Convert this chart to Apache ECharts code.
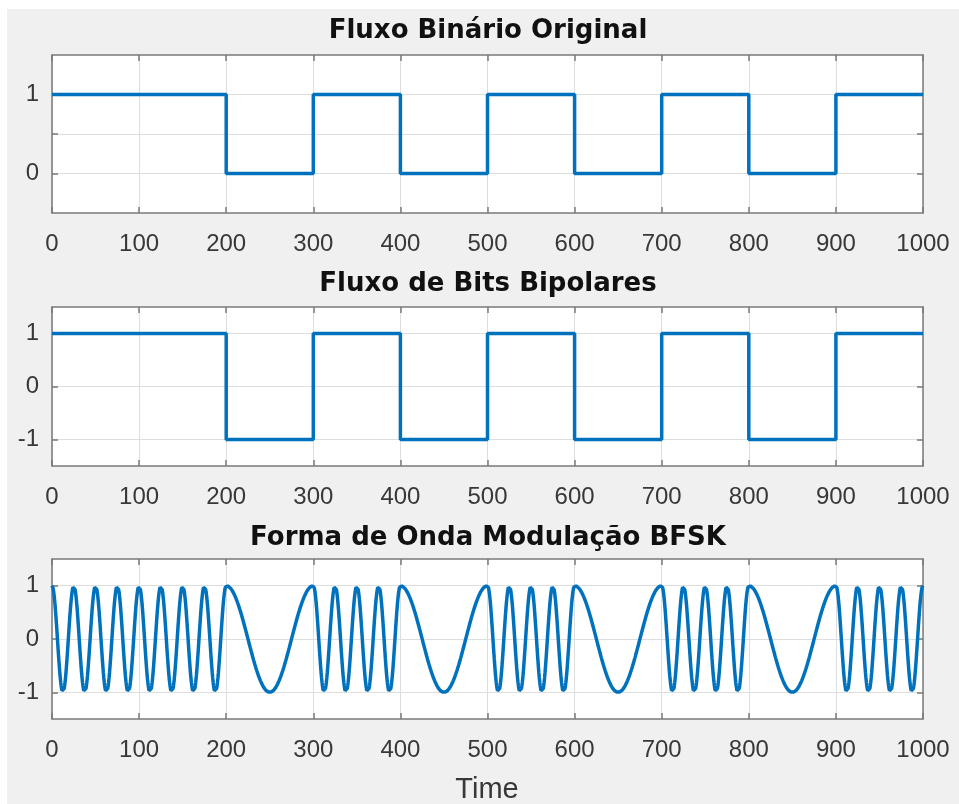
<!DOCTYPE html>
<html>
<head>
<meta charset="utf-8">
<script src="https://cdn.jsdelivr.net/npm/echarts@6/dist/echarts.min.js"></script>
<style>
  html, body { margin: 0; padding: 0; background: #ffffff; }
  #wrap { position: relative; width: 959px; height: 804px; background: #ffffff; overflow: hidden; }
  #chart { position: absolute; left: 7px; top: 9px; width: 952px; height: 795px; }
</style>
</head>
<body>
<div id="wrap"><div id="chart"></div></div>
<script>
// ---- data ----
const titles = ['Fluxo Binário Original', 'Fluxo de Bits Bipolares', 'Forma de Onda Modulação BFSK'];
const xLabel = 'Time';
const xTicks = [0, 100, 200, 300, 400, 500, 600, 700, 800, 900, 1000];
const bitsOriginal = [1, 1, 0, 1, 0, 1, 0, 1, 0, 1];
const bitsBipolar = [1, 1, -1, 1, -1, 1, -1, 1, -1, 1];
const bitDuration = 100;          // samples per bit
const markCyclesPerBit = 4;       // bit 1 -> 4 cycles per bit
const spaceCyclesPerBit = 1;      // bit 0 -> 1 cycle per bit
const samplesTotal = 1000;
const yTicks1 = [0, 0.5, 1];
const yLabels1 = [0, 1];
const yTicks23 = [-1, 0, 1];

// ---- build series data from the arrays ----
function stepData(bits) {
  const d = [];
  bits.forEach((b, i) => d.push([i * bitDuration, b]));
  d.push([bits.length * bitDuration, bits[bits.length - 1]]);
  return d;
}
const bfsk = [];
const res = 4; // sub-samples per sample for a smooth curve
for (let k = 0; k <= samplesTotal * res; k++) {
  const t = k / res;
  const idx = Math.min(Math.floor(t / bitDuration), bitsOriginal.length - 1);
  const cyc = bitsOriginal[idx] === 1 ? markCyclesPerBit : spaceCyclesPerBit;
  bfsk.push([t, Math.cos(2 * Math.PI * cyc * t / bitDuration)]);
}

// ---- styling ----
const FONT = '"Liberation Sans", Arial, Helvetica, sans-serif';
const TFONT = '"DejaVu Sans", "Liberation Sans", Arial, sans-serif';
const boxColor = '#7a7a7a';
const gridColor = '#dedede';
const labelColor = '#383838';
const lineColor = '#0072BD';

const gridsPos = [
  { top: 46, height: 158 },
  { top: 298, height: 159 },
  { top: 550, height: 160 }
];
const grids = gridsPos.map(g => ({
  left: 45, right: 36, top: g.top, height: g.height,
  show: true, backgroundColor: '#ffffff', borderWidth: 0
}));

const xAxes = [];
const yAxes = [];
gridsPos.forEach((g, i) => {
  xAxes.push({
    type: 'value', gridIndex: i, position: 'bottom', min: xTicks[0], max: xTicks[xTicks.length - 1], interval: 100,
    axisLine: { show: true, onZero: false, lineStyle: { color: boxColor, width: 1.5 } },
    axisTick: { show: true, inside: true, length: 6, lineStyle: { color: boxColor, width: 1.5 } },
    axisLabel: { show: true, margin: 19, color: labelColor, fontSize: 24, fontFamily: FONT, formatter: v => String(v) },
    splitLine: { show: true, lineStyle: { color: gridColor, width: 1 } }
  });
  xAxes.push({
    type: 'value', gridIndex: i, position: 'top', min: xTicks[0], max: xTicks[xTicks.length - 1], interval: 100,
    axisLine: { show: true, onZero: false, lineStyle: { color: boxColor, width: 1.5 } },
    axisTick: { show: true, inside: true, length: 6, lineStyle: { color: boxColor, width: 1.5 } },
    axisLabel: { show: false },
    splitLine: { show: false }
  });
  const ymin = i === 0 ? -0.5 : -1.5;
  const ymax = 1.5;
  const ticks = i === 0 ? yTicks1 : yTicks23;
  const labels = i === 0 ? yLabels1 : yTicks23;
  yAxes.push({
    type: 'value', gridIndex: i, position: 'left', min: ymin, max: ymax,
    axisLine: { show: true, onZero: false, lineStyle: { color: boxColor, width: 1.5 } },
    axisTick: { show: true, inside: true, length: 6, customValues: ticks, lineStyle: { color: boxColor, width: 1.5 } },
    axisLabel: { show: true, margin: 13, customValues: labels, color: labelColor, fontSize: 24, fontFamily: FONT, formatter: v => String(v) },
    splitLine: { show: true, lineStyle: { color: gridColor, width: 1 } }
  });
  yAxes.push({
    type: 'value', gridIndex: i, position: 'right', min: ymin, max: ymax,
    axisLine: { show: true, onZero: false, lineStyle: { color: boxColor, width: 1.5 } },
    axisTick: { show: true, inside: true, length: 6, customValues: ticks, lineStyle: { color: boxColor, width: 1.5 } },
    axisLabel: { show: false },
    splitLine: { show: false }
  });
});

const series = [
  { type: 'line', xAxisIndex: 0, yAxisIndex: 0, data: stepData(bitsOriginal), step: 'end', showSymbol: false, lineStyle: { color: lineColor, width: 3.5 }, z: 5 },
  { type: 'line', xAxisIndex: 2, yAxisIndex: 2, data: stepData(bitsBipolar), step: 'end', showSymbol: false, lineStyle: { color: lineColor, width: 3.5 }, z: 5 },
  { type: 'line', xAxisIndex: 4, yAxisIndex: 4, data: bfsk, showSymbol: false, lineStyle: { color: lineColor, width: 3.5 }, z: 5 }
];

const titleY = [22, 275, 529];
const graphic = titles.map((t, i) => ({
  type: 'text', x: 481, y: titleY[i],
  style: { text: t, font: 'bold 26px ' + TFONT, fill: '#111111', align: 'center', verticalAlign: 'middle' }
}));
graphic.push({
  type: 'text', x: 480, y: 781,
  style: { text: xLabel, font: '29px ' + FONT, fill: labelColor, align: 'center', verticalAlign: 'middle' }
});

const chart = echarts.init(document.getElementById('chart'), null, { renderer: 'canvas' });
chart.setOption({
  backgroundColor: '#f0f0f0',
  animation: false,
  grid: grids,
  xAxis: xAxes,
  yAxis: yAxes,
  series: series,
  graphic: graphic
});
</script>
</body>
</html>
